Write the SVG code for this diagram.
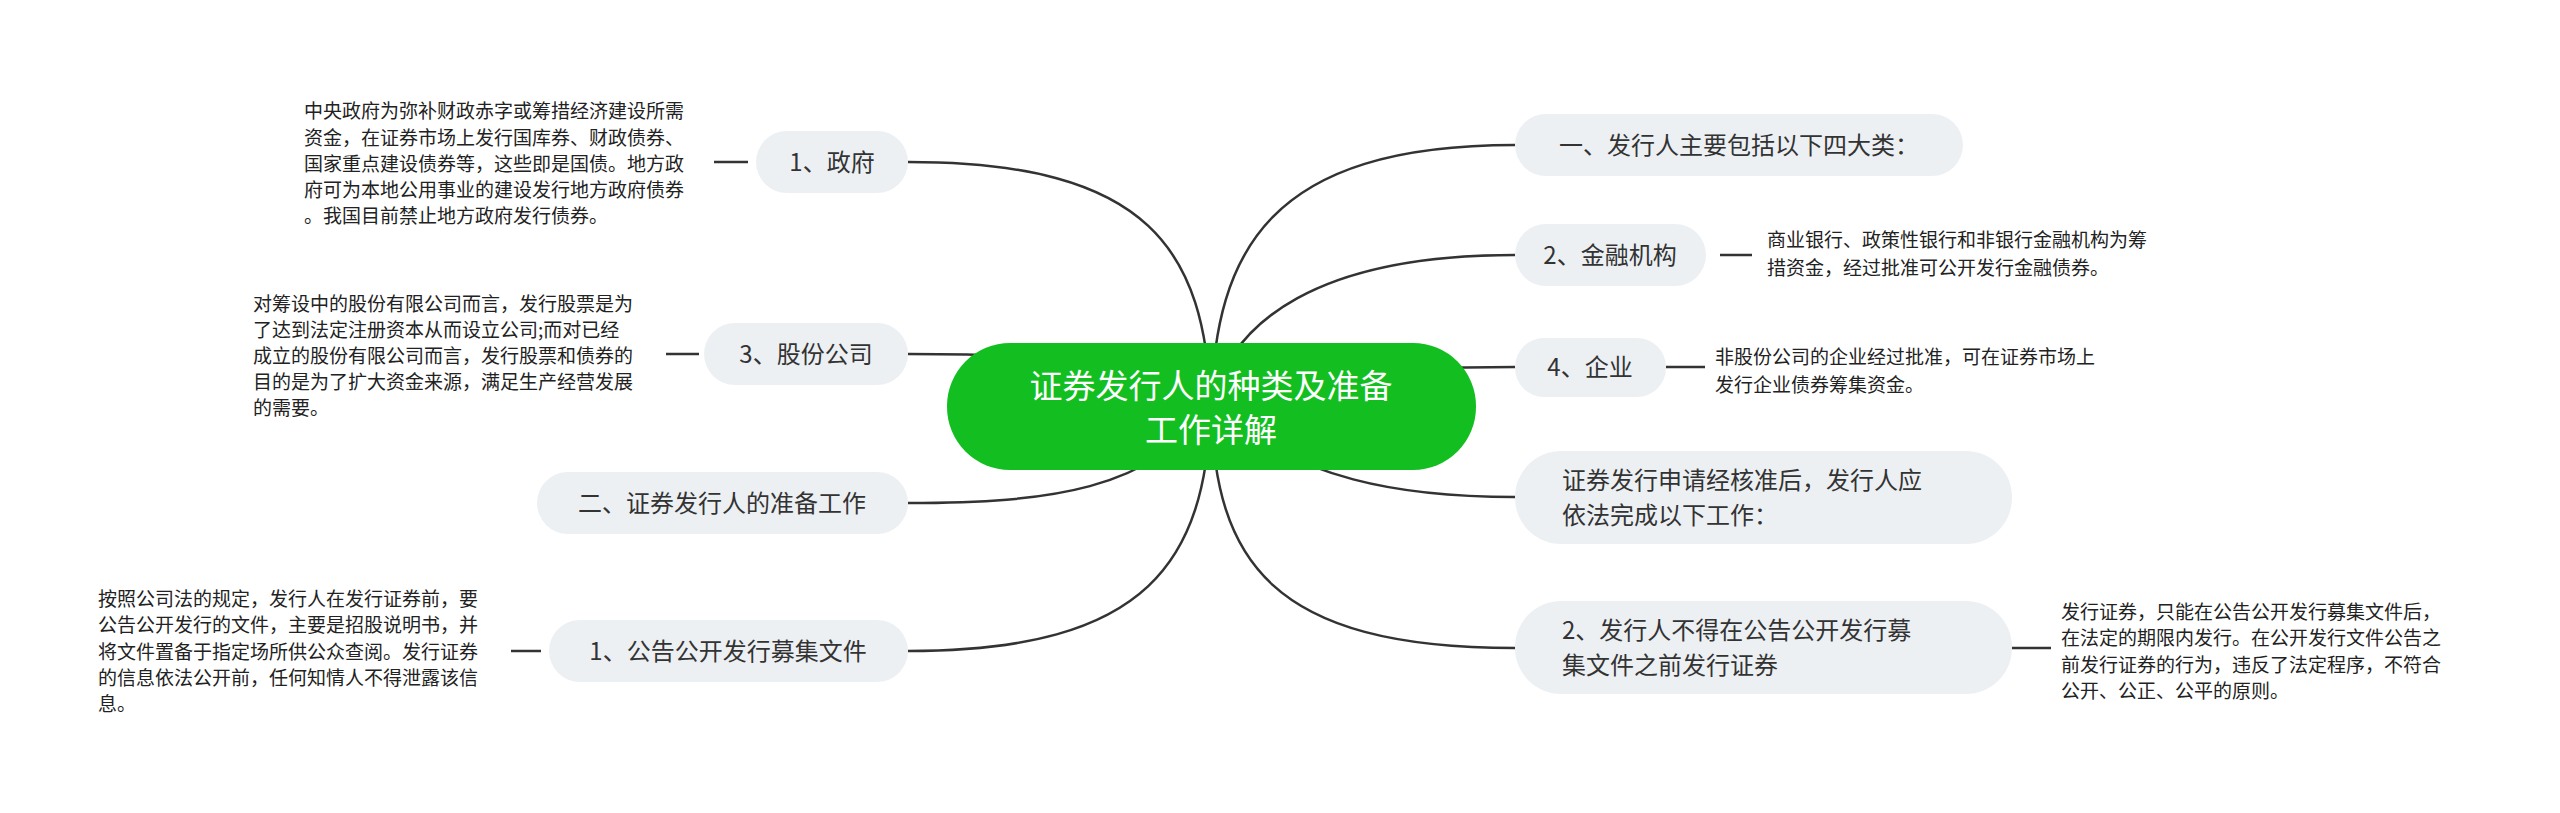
<svg xmlns="http://www.w3.org/2000/svg" width="2560" height="813" viewBox="0 0 2560 813">
<style>
.n{fill:#edf0f3}
.t{font-family:"Noto Sans CJK SC","Noto Sans",sans-serif;font-size:24px;fill:#333}
.l{font-family:"Noto Sans CJK SC","Noto Sans",sans-serif;font-size:19px;fill:#222}
.c{fill:none;stroke:#333;stroke-width:2.5}
</style>
<rect width="2560" height="813" fill="#fff"/>
<g id="connectors">
<path class="c" d="M908,162 C1150,162 1205,250 1211,407"/>
<path class="c" d="M908,354 C1050,354 1150,360 1211,407"/>
<path class="c" d="M908,503 C1050,503 1150,490 1211,407"/>
<path class="c" d="M908,651 C1150,651 1205,560 1211,407"/>
<path class="c" d="M1515,145 C1270,145 1215,250 1211,407"/>
<path class="c" d="M1515,255 C1320,255 1230,320 1211,407"/>
<path class="c" d="M1515,367 C1400,367 1300,370 1211,407"/>
<path class="c" d="M1515,497 C1400,497 1300,480 1211,407"/>
<path class="c" d="M1515,648 C1270,648 1215,560 1211,407"/>
<path class="c" d="M714,162 H748 M666,354 H699 M511,651 H541 M1720,255 H1752 M1666,367 H1705 M2012,648 H2051"/>
</g>
<g id="center"><rect x="947" y="343" width="529" height="127" rx="63" fill="#13bf20"/>
<text x="1211" y="398" text-anchor="middle" style="font-family:'Noto Sans CJK SC',sans-serif;font-size:33px;fill:#fff">证券发行人的种类及准备</text>
<text x="1211" y="442" text-anchor="middle" style="font-family:'Noto Sans CJK SC',sans-serif;font-size:33px;fill:#fff">工作详解</text></g>
<g id="n1"><rect class="n" x="756" y="131" width="152" height="62" rx="31"/><text class="t" x="832" y="171" text-anchor="middle">1、政府</text></g>
<g id="n3"><rect class="n" x="704" y="323" width="204" height="62" rx="31"/><text class="t" x="806" y="363" text-anchor="middle">3、股份公司</text></g>
<g id="n2l"><rect class="n" x="537" y="472" width="371" height="62" rx="31"/><text class="t" x="722" y="512" text-anchor="middle">二、证券发行人的准备工作</text></g>
<g id="n4l"><rect class="n" x="549" y="620" width="359" height="62" rx="31"/><text class="t" x="728" y="660" text-anchor="middle">1、公告公开发行募集文件</text></g>
<g id="r1"><rect class="n" x="1515" y="114" width="448" height="62" rx="31"/><text class="t" x="1739" y="154" text-anchor="middle">一、发行人主要包括以下四大类：</text></g>
<g id="r2"><rect class="n" x="1515" y="224" width="191" height="62" rx="31"/><text class="t" x="1610" y="264" text-anchor="middle">2、金融机构</text></g>
<g id="r3"><rect class="n" x="1515" y="338" width="151" height="59" rx="29"/><text class="t" x="1590" y="376" text-anchor="middle">4、企业</text></g>
<g id="r4"><rect class="n" x="1515" y="451" width="497" height="93" rx="46"/><text class="t" x="1562" y="489">证券发行申请经核准后，发行人应</text><text class="t" x="1562" y="524">依法完成以下工作：</text></g>
<g id="r5"><rect class="n" x="1515" y="601" width="497" height="93" rx="46"/><text class="t" x="1562" y="639">2、发行人不得在公告公开发行募</text><text class="t" x="1562" y="674">集文件之前发行证券</text></g>
<g id="leaf1" class="l"><text x="304" y="118">中央政府为弥补财政赤字或筹措经济建设所需</text><text x="304" y="145">资金，在证券市场上发行国库券、财政债券、</text><text x="304" y="171">国家重点建设债券等，这些即是国债。地方政</text><text x="304" y="197">府可为本地公用事业的建设发行地方政府债券</text><text x="304" y="223">。我国目前禁止地方政府发行债券。</text></g>
<g id="leaf3" class="l"><text x="253" y="311">对筹设中的股份有限公司而言，发行股票是为</text><text x="253" y="337">了达到法定注册资本从而设立公司;而对已经</text><text x="253" y="363">成立的股份有限公司而言，发行股票和债券的</text><text x="253" y="389">目的是为了扩大资金来源，满足生产经营发展</text><text x="253" y="415">的需要。</text></g>
<g id="leaf4" class="l"><text x="98" y="606">按照公司法的规定，发行人在发行证券前，要</text><text x="98" y="632">公告公开发行的文件，主要是招股说明书，并</text><text x="98" y="659">将文件置备于指定场所供公众查阅。发行证券</text><text x="98" y="685">的信息依法公开前，任何知情人不得泄露该信</text><text x="98" y="711">息。</text></g>
<g id="leafr2" class="l"><text x="1767" y="247">商业银行、政策性银行和非银行金融机构为筹</text><text x="1767" y="275">措资金，经过批准可公开发行金融债券。</text></g>
<g id="leafr3" class="l"><text x="1715" y="364">非股份公司的企业经过批准，可在证券市场上</text><text x="1715" y="392">发行企业债券筹集资金。</text></g>
<g id="leafr5" class="l"><text x="2061" y="619">发行证券，只能在公告公开发行募集文件后，</text><text x="2061" y="645">在法定的期限内发行。在公开发行文件公告之</text><text x="2061" y="672">前发行证券的行为，违反了法定程序，不符合</text><text x="2061" y="698">公开、公正、公平的原则。</text></g>
</svg>
